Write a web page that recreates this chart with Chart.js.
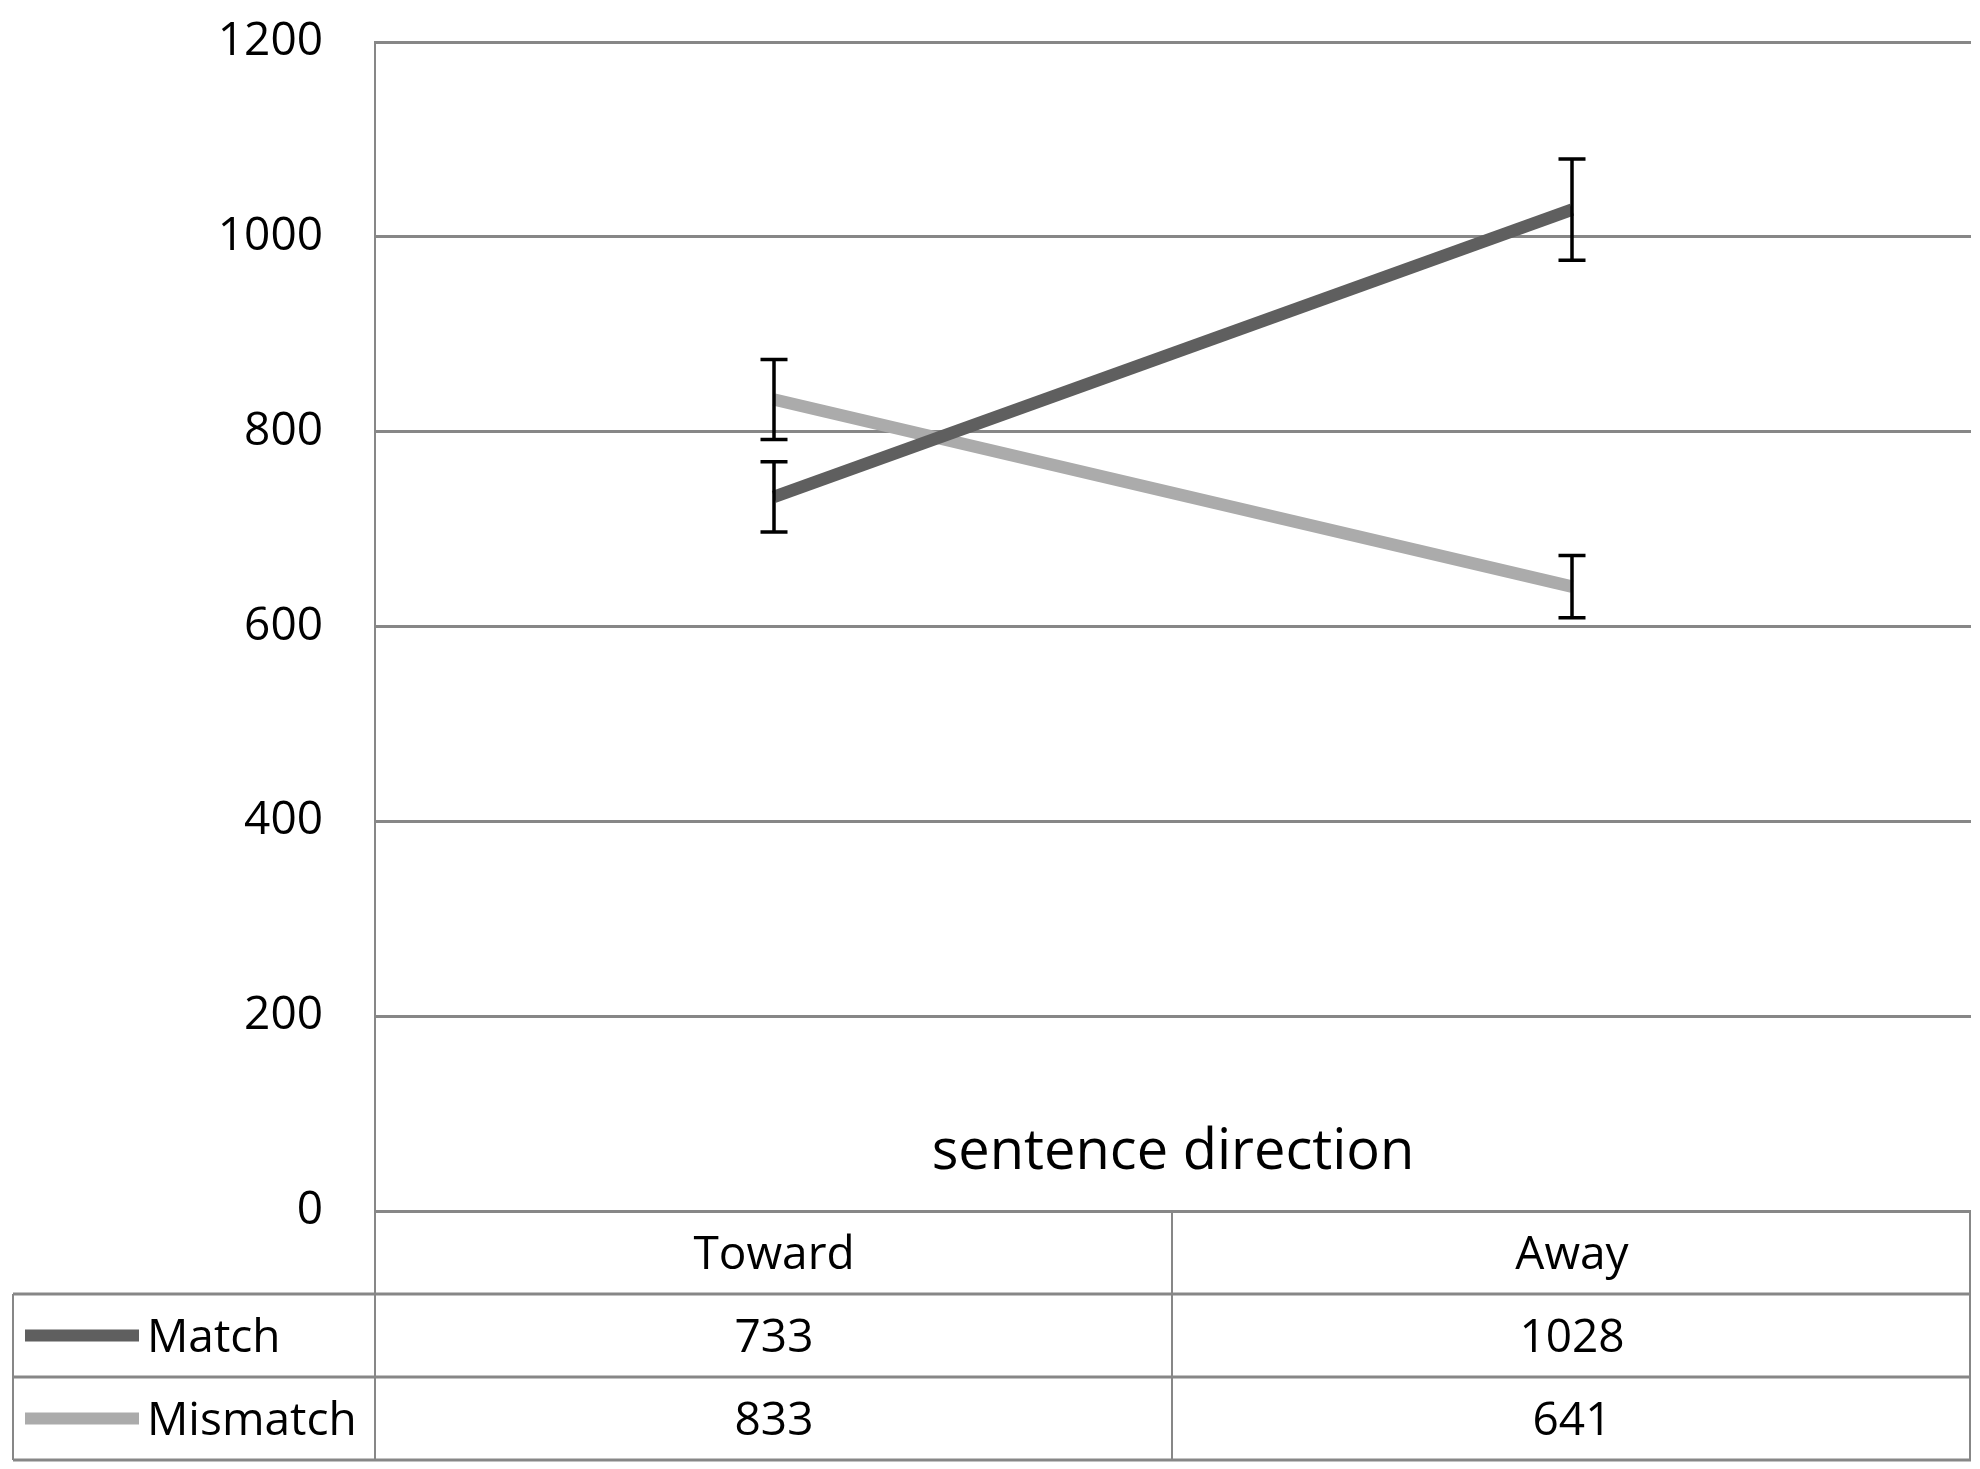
<!DOCTYPE html>
<html>
<head>
<meta charset="utf-8">
<script src="https://cdn.jsdelivr.net/npm/chart.js@4/dist/chart.umd.min.js"></script>
<style>
  html, body { margin: 0; padding: 0; background: #ffffff; }
  #wrap { width: 1980px; height: 1469px; }
</style>
</head>
<body>
<div id="wrap"><canvas id="rtChart" width="1980" height="1469"></canvas></div>
<script>
// data
const categories = ['Toward', 'Away'];
const seriesNames = ['Match', 'Mismatch'];
const matchValues = [733, 1028];
const mismatchValues = [833, 641];
const matchErrors = [36, 52];
const mismatchErrors = [41, 32];
const yTickValues = [0, 200, 400, 600, 800, 1000, 1200];
const xTitle = 'sentence direction';

const FONT = '"Open Sans", "DejaVu Sans", sans-serif';
const matchColor = '#5f5f5f';
const mismatchColor = '#ababab';
const gridColor = '#878787';

// error bars drawn on top of the lines
const errorBarPlugin = {
    id: 'errorBars',
    afterDatasetsDraw(chart) {
        const ctx = chart.ctx;
        const y = chart.scales.y;
        ctx.save();
        ctx.strokeStyle = '#000000';
        ctx.lineWidth = 3.5;
        chart.data.datasets.forEach((ds, d) => {
            const meta = chart.getDatasetMeta(d);
            ds.errors.forEach((e, i) => {
                const px = meta.data[i].x;
                const top = y.getPixelForValue(ds.data[i] + e);
                const bot = y.getPixelForValue(ds.data[i] - e);
                ctx.beginPath();
                ctx.moveTo(px, top); ctx.lineTo(px, bot);
                ctx.moveTo(px - 13.5, top); ctx.lineTo(px + 13.5, top);
                ctx.moveTo(px - 13.5, bot); ctx.lineTo(px + 13.5, bot);
                ctx.stroke();
            });
        });
        ctx.restore();
    }
};

// axis title + data table under the plot
const dataTablePlugin = {
    id: 'dataTable',
    afterDraw(chart) {
        const ctx = chart.ctx;
        const area = chart.chartArea;
        const x = chart.scales.x;
        const rowH = 83;
        const tableLeft = 13;
        const top = area.bottom;
        const bottom = top + rowH * 3;
        const colW = (area.right - area.left) / categories.length;

        ctx.save();
        ctx.fillStyle = '#000000';
        ctx.textAlign = 'center';
        ctx.textBaseline = 'alphabetic';
        ctx.font = '56px ' + FONT;
        ctx.fillText(xTitle, (area.left + area.right) / 2, area.bottom - 42);

        // grid of the table
        ctx.strokeStyle = gridColor;
        ctx.lineWidth = 2;
        ctx.beginPath();
        ctx.moveTo(area.left, area.top); ctx.lineTo(area.left, bottom);
        for (let c = 1; c <= categories.length; c++) {
            const cx = Math.round(area.left + c * colW) - 1;
            ctx.moveTo(cx, top); ctx.lineTo(cx, bottom);
        }
        ctx.moveTo(tableLeft, top + rowH); ctx.lineTo(tableLeft, bottom);
        ctx.stroke();
        ctx.lineWidth = 3;
        ctx.beginPath();
        for (let r = 1; r <= 3; r++) {
            ctx.moveTo(tableLeft, top + r * rowH); ctx.lineTo(area.right, top + r * rowH);
        }
        ctx.stroke();

        // header row
        ctx.font = '46px ' + FONT;
        categories.forEach((cat, i) => {
            ctx.fillText(cat, x.getPixelForValue(i), top + rowH / 2 + 16);
        });

        // series rows
        const rows = [matchValues, mismatchValues];
        const colors = [matchColor, mismatchColor];
        rows.forEach((vals, r) => {
            const mid = top + rowH * (r + 1) + rowH / 2;
            ctx.strokeStyle = colors[r];
            ctx.lineWidth = 12;
            ctx.beginPath();
            ctx.moveTo(25, mid); ctx.lineTo(139, mid);
            ctx.stroke();
            ctx.textAlign = 'left';
            ctx.fillText(seriesNames[r], 147, mid + 16);
            ctx.textAlign = 'center';
            vals.forEach((v, i) => {
                ctx.fillText(String(v), x.getPixelForValue(i), mid + 16);
            });
        });
        ctx.restore();
    }
};

const config = {
    type: 'line',
    data: {
        labels: categories,
        datasets: [
            {
                label: seriesNames[0],
                data: matchValues,
                errors: matchErrors,
                borderColor: matchColor,
                borderWidth: 12.5,
                pointRadius: 0,
                tension: 0
            },
            {
                label: seriesNames[1],
                data: mismatchValues,
                errors: mismatchErrors,
                borderColor: mismatchColor,
                borderWidth: 12.5,
                pointRadius: 0,
                tension: 0
            }
        ]
    },
    options: {
        responsive: false,
        devicePixelRatio: 1,
        animation: false,
        layout: {
            padding: { left: 0, top: 42, right: 9, bottom: 258 }
        },
        scales: {
            x: {
                type: 'category',
                offset: true,
                display: false
            },
            y: {
                min: 0,
                max: 1200,
                afterBuildTicks: (scale) => {
                    scale.ticks = yTickValues.map(v => ({ value: v }));
                },
                afterFit: (scale) => {
                    scale.width = 375;
                    scale.paddingTop = 0;
                    scale.paddingBottom = 0;
                },
                grid: {
                    color: gridColor,
                    lineWidth: 3,
                    drawTicks: false
                },
                border: {
                    display: true,
                    color: gridColor,
                    width: 2
                },
                ticks: {
                    color: '#000000',
                    padding: 52,
                    font: { family: FONT, size: 46 },
                    callback: (value) => String(value)
                }
            }
        },
        plugins: {
            legend: { display: false },
            tooltip: { enabled: false }
        }
    },
    plugins: [errorBarPlugin, dataTablePlugin]
};

const rtChart = new Chart(document.getElementById('rtChart'), config);
</script>
</body>
</html>
